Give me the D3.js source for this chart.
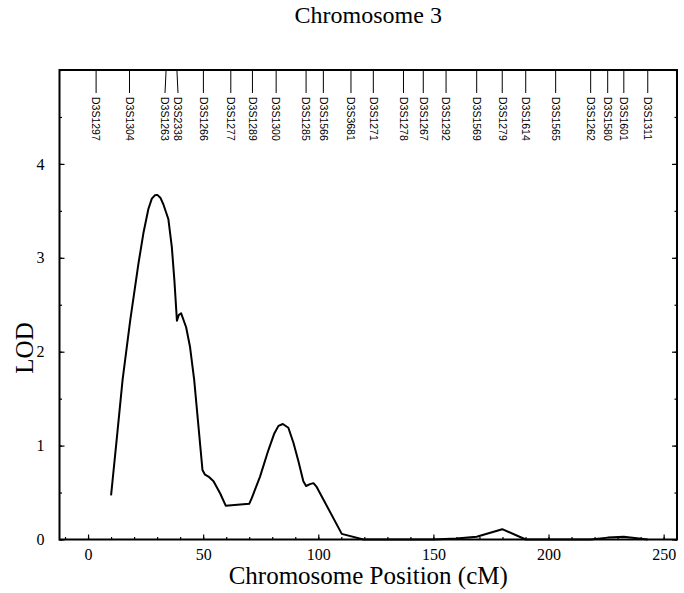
<!DOCTYPE html>
<html><head><meta charset="utf-8">
<script src="https://cdn.jsdelivr.net/npm/d3@7"></script>
<style>body{margin:0;background:#fff}</style>
</head><body>
<svg id="c" width="684" height="593"></svg>
<script>
const positions = [10,12.5,15,18.3,21.9,24.1,26.2,27.7,29,30.1,31.4,32.7,34.9,36.4,37.5,38.6,39.4,40.4,42.6,44.3,46.1,49.7,50.8,52.3,54.5,57.4,59.8,70.0,71.1,74.7,78.3,80.9,82.7,84.6,87.0,89.2,91.4,93.5,94.7,96.4,97.9,99.3,110.2,119.6,150,160,168.8,179.9,190.1,218.3,225.7,232.7,243.1];
const lod = [0.47,1.08,1.70,2.33,2.94,3.27,3.52,3.63,3.665,3.67,3.64,3.57,3.41,3.11,2.76,2.33,2.39,2.41,2.26,2.05,1.70,0.74,0.69,0.67,0.62,0.49,0.36,0.38,0.44,0.67,0.95,1.13,1.21,1.23,1.19,1.03,0.83,0.62,0.57,0.59,0.60,0.56,0.06,0,0,0.01,0.03,0.11,0,0,0.02,0.03,0];
const markerNames = ["D3S1297","D3S1304","D3S1263","D3S2338","D3S1266","D3S1277","D3S1289","D3S1300","D3S1285","D3S1566","D3S3681","D3S1271","D3S1278","D3S1267","D3S1292","D3S1569","D3S1279","D3S1614","D3S1565","D3S1262","D3S1580","D3S1601","D3S1311"];
const markerPos = [3.5,18.0,33.9,38.6,50.1,62.0,71.4,81.7,94.7,102.2,114.2,123.9,137.0,145.6,155.5,168.8,179.9,190.1,203.1,218.3,225.7,232.7,243.1];
const xTicks = [0,50,100,150,200,250];
const yTicks = [0,1,2,3,4];
const title = "Chromosome 3";
const xTitle = "Chromosome Position (cM)";
const yTitle = "LOD";

const svg = d3.select("#c");
const L = 59.5, R = 677, T = 70, B = 539.5;
const x = d3.scaleLinear().domain([-12.4, 255.8]).range([L, R]);
const y = d3.scaleLinear().domain([0, 5]).range([B, T]);
const serif = "'Liberation Serif','Times New Roman',serif";
const sans = "'Liberation Sans',Arial,sans-serif";

const xMinor = d3.range(-10, 256, 10);
const yMinor = d3.range(0, 5.01, 0.5);

const bx = svg.append("g").attr("transform", `translate(0,${B})`)
  .call(d3.axisBottom(x).tickValues(xMinor).tickSize(-2.5).tickFormat(""));
bx.select(".domain").remove();
const bx2 = svg.append("g").attr("transform", `translate(0,${B})`)
  .call(d3.axisBottom(x).tickValues(xTicks).tickSize(-5).tickPadding(9).tickFormat(d3.format("d")));
bx2.select(".domain").remove();
bx2.selectAll("text").attr("font-family", serif).attr("font-size", 16).attr("fill", "#000");

const ly = svg.append("g").attr("transform", `translate(${L},0)`)
  .call(d3.axisLeft(y).tickValues(yMinor).tickSize(-2.5).tickFormat(""));
ly.select(".domain").remove();
const ly2 = svg.append("g").attr("transform", `translate(${L},0)`)
  .call(d3.axisLeft(y).tickValues(yTicks).tickSize(-5).tickPadding(15).tickFormat(d3.format("d")));
ly2.select(".domain").remove();
ly2.selectAll("text").attr("font-family", serif).attr("font-size", 16).attr("fill", "#000");

const ry = svg.append("g").attr("transform", `translate(${R},0)`)
  .call(d3.axisRight(y).tickValues(yMinor).tickSize(-2.5).tickFormat(""));
ry.select(".domain").remove();
const ry2 = svg.append("g").attr("transform", `translate(${R},0)`)
  .call(d3.axisRight(y).tickValues(yTicks).tickSize(-5).tickFormat(""));
ry2.select(".domain").remove();
svg.selectAll(".tick line").attr("stroke", "#000").attr("stroke-width", 1.2);

svg.append("rect").attr("x", L).attr("y", T).attr("width", R - L).attr("height", B - T)
  .attr("fill", "none").attr("stroke", "#000").attr("stroke-width", 2);

const mx = markerPos.map(p => x(p));
const lx = mx.slice();
const minGap = 13;
for (let i = 1; i < lx.length; i++) {
  if (lx[i] - lx[i-1] < minGap) {
    const mid = (lx[i] + lx[i-1]) / 2;
    lx[i-1] = mid - minGap / 2; lx[i] = mid + minGap / 2;
  }
}
const mg = svg.append("g");
markerNames.forEach((n, i) => {
  mg.append("line").attr("x1", mx[i]).attr("y1", T).attr("x2", lx[i]).attr("y2", 93)
    .attr("stroke", "#000").attr("stroke-width", 1);
  mg.append("text").attr("transform", `translate(${lx[i] - 3.7},97) rotate(90)`)
    .attr("font-family", sans).attr("font-size", 10.5).attr("fill", "#000")
    .text(n);
});

const data = positions.map((p, i) => [p, lod[i]]);
svg.append("path").datum(data)
  .attr("d", d3.line().x(d => x(d[0])).y(d => y(d[1])))
  .attr("fill", "none").attr("stroke", "#000").attr("stroke-width", 2)
  .attr("stroke-linejoin", "round");

svg.append("text").attr("x", (L + R) / 2).attr("y", 23).attr("text-anchor", "middle")
  .attr("font-family", serif).attr("font-size", 24).text(title);
svg.append("text").attr("x", (L + R) / 2).attr("y", 584).attr("text-anchor", "middle")
  .attr("font-family", serif).attr("font-size", 25).text(xTitle);
svg.append("text").attr("transform", "translate(33,348) rotate(-90)").attr("text-anchor", "middle")
  .attr("font-family", serif).attr("font-size", 25).text(yTitle);
</script>
</body></html>
